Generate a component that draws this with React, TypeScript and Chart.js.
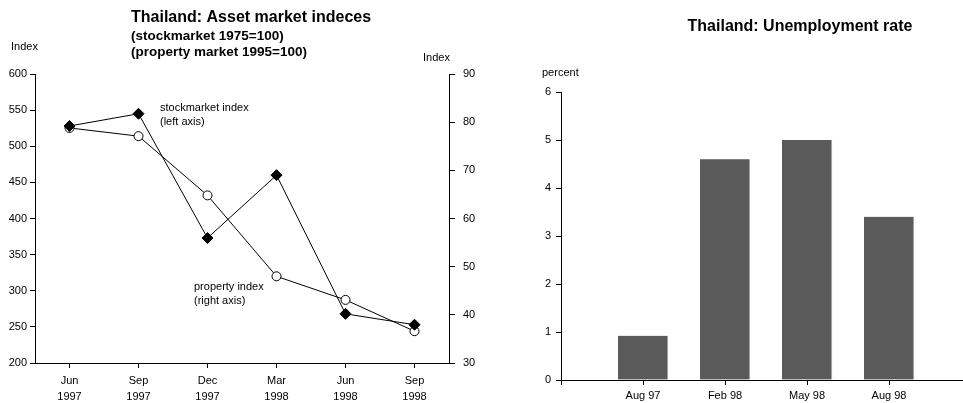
import React, { useEffect, useRef } from "react";
import { Chart, registerables } from "chart.js";

Chart.register(...registerables);

const months: string[][] = [
  ["Jun", "1997"],
  ["Sep", "1997"],
  ["Dec", "1997"],
  ["Mar", "1998"],
  ["Jun", "1998"],
  ["Sep", "1998"],
];
const stockIndex = [528, 545, 373, 460, 268, 253];
const propertyIndex = [78.8, 77.1, 64.8, 48.0, 43.1, 36.6];

const unempLabels = ["Aug 97", "Feb 98", "May 98", "Aug 98"];
const unempValues = [0.92, 4.6, 5.0, 3.4];

const FONT = "'Liberation Sans', Arial, Helvetica, sans-serif";

type TextItem = { text: string; x: number; y: number; size: number; bold?: boolean; align?: CanvasTextAlign };

function textPlugin(id: string, items: TextItem[]) {
  return {
    id,
    afterDraw(chart: any) {
      const ctx = chart.ctx as CanvasRenderingContext2D;
      ctx.save();
      ctx.fillStyle = "#000";
      ctx.textBaseline = "middle";
      for (const it of items) {
        ctx.font = `${it.bold ? "bold " : ""}${it.size}px ${FONT}`;
        ctx.textAlign = it.align || "left";
        ctx.fillText(it.text, it.x, it.y);
      }
      ctx.restore();
    },
  };
}

function LineChart() {
  const ref = useRef<HTMLCanvasElement>(null);
  useEffect(() => {
    const chart = new Chart(ref.current!, {
      type: "line",
      data: {
        labels: months,
        datasets: [
          {
            label: "stockmarket index",
            data: stockIndex,
            yAxisID: "yL",
            borderColor: "#000",
            borderWidth: 1,
            backgroundColor: "#000",
            pointStyle: "rectRot",
            pointRadius: 5.5,
            pointBorderColor: "#000",
            pointBackgroundColor: "#000",
            tension: 0,
          },
          {
            label: "property index",
            data: propertyIndex,
            yAxisID: "yR",
            borderColor: "#000",
            borderWidth: 1,
            backgroundColor: "#fff",
            pointStyle: "circle",
            pointRadius: 4.5,
            pointBorderWidth: 1,
            pointBorderColor: "#000",
            pointBackgroundColor: "#fff",
            tension: 0,
          },
        ],
      },
      options: {
        animation: false,
        responsive: false,
        maintainAspectRatio: false,
        layout: { padding: { top: 74, left: 0, right: 0, bottom: 0 } },
        plugins: { legend: { display: false }, tooltip: { enabled: false } },
        scales: {
          x: {
            type: "category",
            offset: true,
            grid: { display: true, offset: false, drawOnChartArea: false, drawTicks: true, tickLength: 5, color: "#000" },
            border: { display: true, color: "#000", width: 1 },
            ticks: { color: "#000", font: { family: FONT, size: 11, lineHeight: 1.45 }, padding: 5, maxRotation: 0, autoSkip: false },
            afterFit: (s: any) => { s.height = 403 - 363; },
          },
          yL: {
            type: "linear",
            position: "left",
            min: 200,
            max: 600,
            grid: { display: true, drawOnChartArea: false, drawTicks: true, tickLength: 5, color: "#000" },
            border: { display: true, color: "#000", width: 1 },
            ticks: { stepSize: 50, color: "#000", font: { family: FONT, size: 11 }, padding: 3 },
            afterFit: (s: any) => { s.width = 35; },
          },
          yR: {
            type: "linear",
            position: "right",
            min: 30,
            max: 90,
            grid: { display: true, drawOnChartArea: false, drawTicks: true, tickLength: 6, color: "#000" },
            border: { display: true, color: "#000", width: 1 },
            ticks: { stepSize: 10, color: "#000", font: { family: FONT, size: 11 }, padding: 8 },
            afterFit: (s: any) => { s.width = 480 - 449; },
          },
        },
      },
      plugins: [
        textPlugin("leftTexts", [
          { text: "Thailand: Asset market indeces", x: 131, y: 18, size: 16, bold: true },
          { text: "(stockmarket 1975=100)", x: 131, y: 36, size: 13.5, bold: true },
          { text: "(property market 1995=100)", x: 131, y: 52, size: 13.5, bold: true },
          { text: "Index", x: 11, y: 47, size: 11 },
          { text: "Index", x: 423, y: 58, size: 11 },
          { text: "stockmarket index", x: 160, y: 108, size: 11 },
          { text: "(left axis)", x: 160, y: 122, size: 11 },
          { text: "property index", x: 194, y: 287, size: 11 },
          { text: "(right axis)", x: 194, y: 301, size: 11 },
        ]),
      ],
    } as any);
    return () => chart.destroy();
  }, []);
  return <canvas ref={ref} width={480} height={403} style={{ position: "absolute", left: 0, top: 0, width: 480, height: 403 }} />;
}

function BarChart() {
  const ref = useRef<HTMLCanvasElement>(null);
  useEffect(() => {
    const chart = new Chart(ref.current!, {
      type: "bar",
      data: {
        datasets: [
          {
            label: "Unemployment rate",
            data: unempValues.map((v, i) => ({ x: i + 1, y: v })),
            backgroundColor: "#5a5a5a",
            borderColor: "#c8c8c8",
            borderWidth: { top: 0, left: 0, bottom: 0, right: 1 },
            borderSkipped: false,
            barThickness: 50,
          },
        ],
      },
      options: {
        animation: false,
        responsive: false,
        maintainAspectRatio: false,
        layout: { padding: { top: 92, left: 0, right: 0, bottom: 0 } },
        plugins: { legend: { display: false }, tooltip: { enabled: false } },
        scales: {
          x: {
            type: "linear",
            min: 0,
            max: (963 - 561) / 82,
            offset: false,
            grid: { display: true, offset: false, drawOnChartArea: false, drawTicks: true, tickLength: 5, color: "#000" },
            border: { display: true, color: "#000", width: 1 },
            ticks: {
              stepSize: 1,
              includeBounds: false,
              color: "#000",
              font: { family: FONT, size: 11 },
              padding: 4,
              maxRotation: 0,
              autoSkip: false,
              callback: (v: any) => (v >= 1 && v <= unempLabels.length && Number.isInteger(v) ? unempLabels[v - 1] : ""),
            },
            afterFit: (s: any) => { s.height = 403 - 380; },
          },
          y: {
            type: "linear",
            min: 0,
            max: 6,
            grid: { display: true, drawOnChartArea: false, drawTicks: true, tickLength: 5, color: "#000" },
            border: { display: true, color: "#000", width: 1 },
            ticks: { stepSize: 1, color: "#000", font: { family: FONT, size: 11 }, padding: 5 },
            afterFit: (s: any) => { s.width = 561 - 480; },
          },
        },
      },
      plugins: [
        textPlugin("rightTexts", [
          { text: "Thailand: Unemployment rate", x: 800 - 480, y: 27, size: 16, bold: true, align: "center" },
          { text: "percent", x: 542 - 480, y: 73, size: 11 },
        ]),
      ],
    } as any);
    return () => chart.destroy();
  }, []);
  return <canvas ref={ref} width={483} height={403} style={{ position: "absolute", left: 480, top: 0, width: 483, height: 403 }} />;
}

export default function App() {
  return (
    <div style={{ position: "fixed", left: 0, top: 0, width: 963, height: 403, background: "#fff", overflow: "hidden" }}>
      <LineChart />
      <BarChart />
    </div>
  );
}
